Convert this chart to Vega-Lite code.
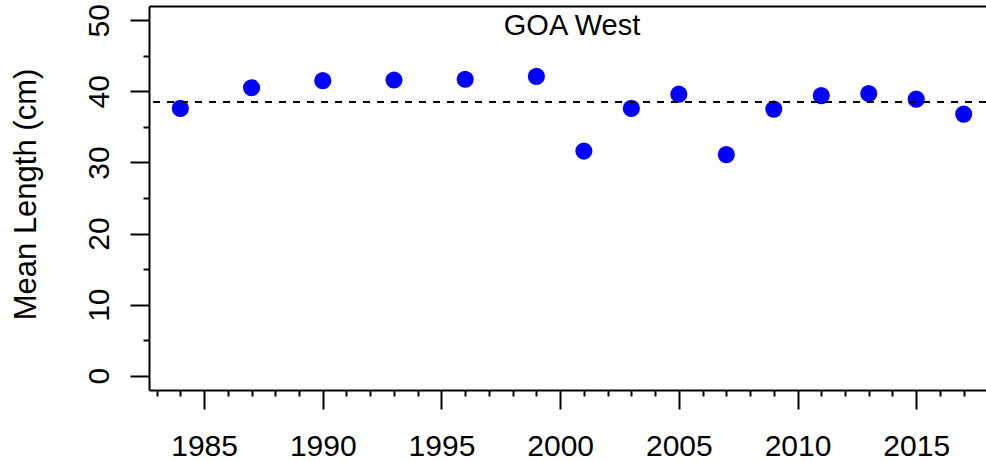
{
  "$schema": "https://vega.github.io/schema/vega-lite/v6.json",
  "width": 837,
  "height": 384,
  "autosize": {"type": "none"},
  "padding": {"left": 149, "top": 6, "right": 0, "bottom": 71},
  "background": "white",
  "config": {
    "view": {"stroke": null},
    "font": "Liberation Sans",
    "axis": {
      "labelFont": "Liberation Sans",
      "titleFont": "Liberation Sans",
      "labelFontSize": 30,
      "titleFontSize": 31,
      "labelColor": "black",
      "titleColor": "black",
      "titleFontWeight": "normal",
      "tickColor": "black",
      "tickWidth": 2,
      "domain": false,
      "domainColor": "black",
      "domainWidth": 2,
      "grid": false,
      "labelOverlap": false,
      "labelFlush": false,
      "labelBound": false
    }
  },
  "datasets": {
    "pts": [
      {"year": 1984, "length": 37.6},
      {"year": 1987, "length": 40.5},
      {"year": 1990, "length": 41.5},
      {"year": 1993, "length": 41.6},
      {"year": 1996, "length": 41.7},
      {"year": 1999, "length": 42.1},
      {"year": 2001, "length": 31.6},
      {"year": 2003, "length": 37.6},
      {"year": 2005, "length": 39.6},
      {"year": 2007, "length": 31.1},
      {"year": 2009, "length": 37.5},
      {"year": 2011, "length": 39.4},
      {"year": 2013, "length": 39.7},
      {"year": 2015, "length": 38.9},
      {"year": 2017, "length": 36.8}
    ],
    "ref": [{"mean": 38.5}],
    "lbl": [{"label": "GOA West"}]
  },
  "layer": [
    {
      "data": {"name": "pts"},
      "mark": {"type": "circle", "size": 293, "color": "#0000FF", "opacity": 1},
      "encoding": {
        "x": {
          "field": "year", "type": "quantitative",
          "scale": {"domain": [1982.68, 2017.94], "nice": false, "zero": false},
          "axis": {
            "orient": "bottom",
            "title": null,
            "domain": true,
            "values": [1985, 1990, 1995, 2000, 2005, 2010, 2015],
            "format": "d",
            "tickSize": 19,
            "labelPadding": 46,
            "labelBaseline": "alphabetic",
            "labelAlign": "center"
          }
        },
        "y": {
          "field": "length", "type": "quantitative",
          "scale": {"domain": [-2, 52], "nice": false, "zero": false},
          "axis": {
            "orient": "left",
            "title": "Mean Length (cm)",
            "domain": true,
            "values": [0, 10, 20, 30, 40, 50],
            "tickSize": 19,
            "labelAngle": 270,
            "labelAlign": "center",
            "labelBaseline": "alphabetic",
            "labelPadding": 22,
            "titleAngle": 270,
            "titleAlign": "center",
            "titleBaseline": "alphabetic",
            "titleX": -114,
            "titleY": 188
          }
        }
      }
    },
    {
      "data": {"name": "ref"},
      "mark": {"type": "rule", "color": "black", "strokeWidth": 2, "strokeDash": [7, 7]},
      "encoding": {
        "y": {"field": "mean", "type": "quantitative", "axis": null}
      }
    },
    {
      "data": {"name": "lbl"},
      "mark": {"type": "text", "font": "Liberation Sans", "fontSize": 29, "color": "black", "align": "center", "baseline": "alphabetic"},
      "encoding": {
        "x": {"datum": 2000.5, "type": "quantitative", "axis": null},
        "y": {"datum": 47.9, "type": "quantitative", "axis": null},
        "text": {"field": "label", "type": "nominal"}
      }
    },
    {
      "data": {"name": "pts"},
      "mark": {"type": "circle", "opacity": 0},
      "encoding": {
        "x": {
          "field": "year", "type": "quantitative",
          "axis": {
            "orient": "bottom",
            "title": null,
            "values": [1983, 1984, 1986, 1987, 1988, 1989, 1991, 1992, 1993, 1994, 1996, 1997, 1998, 1999, 2001, 2002, 2003, 2004, 2006, 2007, 2008, 2009, 2011, 2012, 2013, 2014, 2016, 2017],
            "tickSize": 6,
            "labels": false
          }
        },
        "y": {
          "field": "length", "type": "quantitative",
          "axis": {
            "orient": "left",
            "title": null,
            "values": [5, 15, 25, 35, 45],
            "tickSize": 6,
            "labels": false
          }
        }
      }
    },
    {
      "data": {"name": "pts"},
      "mark": {"type": "circle", "opacity": 0},
      "encoding": {
        "x": {
          "field": "year", "type": "quantitative",
          "axis": {
            "orient": "top",
            "title": null,
            "domain": true,
            "ticks": false,
            "labels": false
          }
        }
      }
    }
  ],
  "resolve": {"axis": {"x": "independent", "y": "independent"}}
}
